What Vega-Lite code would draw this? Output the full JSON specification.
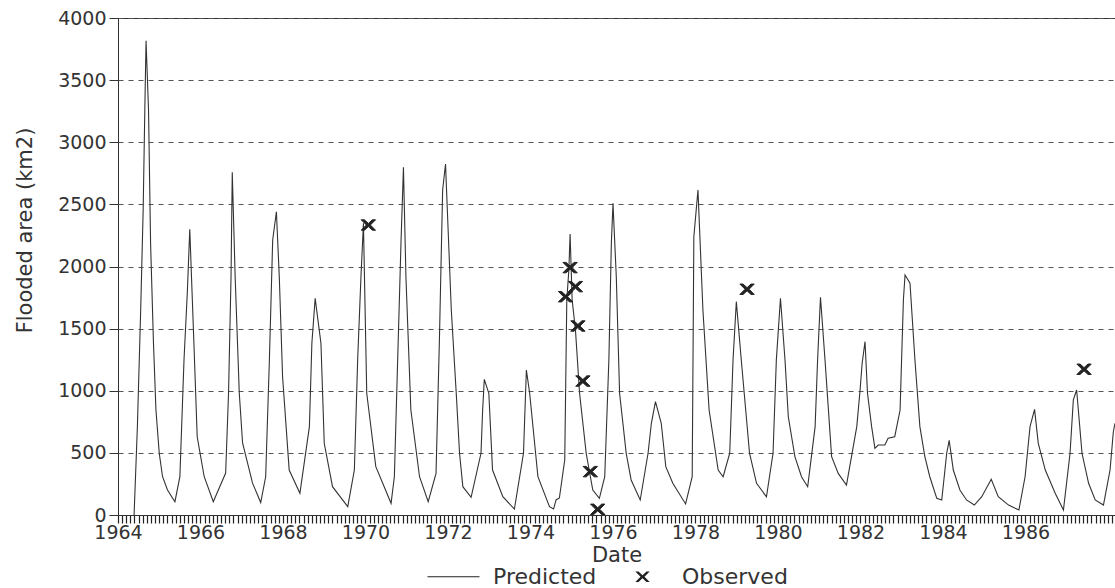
{
  "$schema": "https://vega.github.io/schema/vega-lite/v6.json",
  "width": 997,
  "height": 497,
  "autosize": "none",
  "padding": {"left": 118, "top": 18, "right": 0, "bottom": 73},
  "background": "white",
  "config": {
    "view": {"stroke": "#333", "strokeWidth": 1},
    "font": "DejaVu Sans"
  },
  "datasets": {
    "predicted": [
      {"year": 1964.39, "area": 0}, {"year": 1964.47, "area": 711}, {"year": 1964.55, "area": 1650}, {"year": 1964.61, "area": 2455},
      {"year": 1964.65, "area": 3260}, {"year": 1964.68, "area": 3817}, {"year": 1964.74, "area": 3260}, {"year": 1964.79, "area": 2186},
      {"year": 1964.86, "area": 1382}, {"year": 1964.92, "area": 845}, {"year": 1965.0, "area": 497}, {"year": 1965.08, "area": 308},
      {"year": 1965.2, "area": 201}, {"year": 1965.38, "area": 107}, {"year": 1965.5, "area": 308}, {"year": 1965.6, "area": 1248},
      {"year": 1965.68, "area": 1787}, {"year": 1965.74, "area": 2300}, {"year": 1965.84, "area": 1384}, {"year": 1965.92, "area": 630},
      {"year": 1966.09, "area": 308}, {"year": 1966.31, "area": 107}, {"year": 1966.61, "area": 338}, {"year": 1966.68, "area": 982},
      {"year": 1966.74, "area": 1918}, {"year": 1966.77, "area": 2758}, {"year": 1966.84, "area": 1918}, {"year": 1966.94, "area": 982},
      {"year": 1967.02, "area": 580}, {"year": 1967.26, "area": 258}, {"year": 1967.46, "area": 100}, {"year": 1967.58, "area": 308},
      {"year": 1967.67, "area": 1248}, {"year": 1967.75, "area": 2213}, {"year": 1967.84, "area": 2441}, {"year": 1967.91, "area": 1918},
      {"year": 1967.99, "area": 1113}, {"year": 1968.15, "area": 362}, {"year": 1968.41, "area": 175}, {"year": 1968.64, "area": 711},
      {"year": 1968.7, "area": 1382}, {"year": 1968.78, "area": 1744}, {"year": 1968.92, "area": 1382}, {"year": 1969.0, "area": 577},
      {"year": 1969.2, "area": 228}, {"year": 1969.57, "area": 67}, {"year": 1969.73, "area": 362}, {"year": 1969.81, "area": 1248},
      {"year": 1969.89, "area": 1918}, {"year": 1969.95, "area": 2347}, {"year": 1970.03, "area": 980}, {"year": 1970.25, "area": 389},
      {"year": 1970.62, "area": 94}, {"year": 1970.7, "area": 308}, {"year": 1970.78, "area": 1248}, {"year": 1970.86, "area": 2186},
      {"year": 1970.92, "area": 2798}, {"year": 1970.98, "area": 1918}, {"year": 1971.1, "area": 845}, {"year": 1971.31, "area": 308},
      {"year": 1971.52, "area": 107}, {"year": 1971.71, "area": 335}, {"year": 1971.79, "area": 1382}, {"year": 1971.87, "area": 2616},
      {"year": 1971.94, "area": 2825}, {"year": 1972.08, "area": 1650}, {"year": 1972.2, "area": 980}, {"year": 1972.28, "area": 497},
      {"year": 1972.36, "area": 228}, {"year": 1972.56, "area": 142}, {"year": 1972.8, "area": 497}, {"year": 1972.84, "area": 845},
      {"year": 1972.88, "area": 1092}, {"year": 1972.99, "area": 980}, {"year": 1973.08, "area": 362}, {"year": 1973.33, "area": 147},
      {"year": 1973.61, "area": 48}, {"year": 1973.83, "area": 497}, {"year": 1973.9, "area": 1167}, {"year": 1973.98, "area": 980},
      {"year": 1974.18, "area": 308}, {"year": 1974.46, "area": 67}, {"year": 1974.56, "area": 48}, {"year": 1974.62, "area": 121},
      {"year": 1974.7, "area": 137}, {"year": 1974.83, "area": 443}, {"year": 1974.88, "area": 1730}, {"year": 1974.93, "area": 1972},
      {"year": 1974.96, "area": 2262}, {"year": 1975.01, "area": 1730}, {"year": 1975.09, "area": 1489}, {"year": 1975.19, "area": 980},
      {"year": 1975.35, "area": 497}, {"year": 1975.51, "area": 201}, {"year": 1975.67, "area": 134}, {"year": 1975.8, "area": 308},
      {"year": 1975.9, "area": 1248}, {"year": 1975.96, "area": 2186}, {"year": 1976.0, "area": 2508}, {"year": 1976.08, "area": 1918},
      {"year": 1976.16, "area": 980}, {"year": 1976.32, "area": 497}, {"year": 1976.44, "area": 282}, {"year": 1976.66, "area": 121},
      {"year": 1976.85, "area": 497}, {"year": 1976.93, "area": 738}, {"year": 1977.03, "area": 912}, {"year": 1977.17, "area": 738},
      {"year": 1977.28, "area": 389}, {"year": 1977.45, "area": 255}, {"year": 1977.76, "area": 89}, {"year": 1977.92, "area": 308},
      {"year": 1977.96, "area": 2240}, {"year": 1978.06, "area": 2616}, {"year": 1978.18, "area": 1650}, {"year": 1978.33, "area": 845},
      {"year": 1978.55, "area": 362}, {"year": 1978.67, "area": 308}, {"year": 1978.83, "area": 497}, {"year": 1978.91, "area": 1248},
      {"year": 1978.99, "area": 1717}, {"year": 1979.11, "area": 1248}, {"year": 1979.31, "area": 497}, {"year": 1979.48, "area": 255},
      {"year": 1979.72, "area": 147}, {"year": 1979.88, "area": 497}, {"year": 1979.96, "area": 1248}, {"year": 1980.06, "area": 1744},
      {"year": 1980.17, "area": 1248}, {"year": 1980.25, "area": 791}, {"year": 1980.41, "area": 470}, {"year": 1980.57, "area": 308},
      {"year": 1980.72, "area": 228}, {"year": 1980.9, "area": 711}, {"year": 1980.96, "area": 1248}, {"year": 1981.03, "area": 1752},
      {"year": 1981.14, "area": 1248}, {"year": 1981.3, "area": 470}, {"year": 1981.46, "area": 335}, {"year": 1981.66, "area": 241},
      {"year": 1981.91, "area": 711}, {"year": 1981.99, "area": 1006}, {"year": 1982.04, "area": 1221}, {"year": 1982.11, "area": 1395},
      {"year": 1982.17, "area": 980}, {"year": 1982.27, "area": 711}, {"year": 1982.35, "area": 537}, {"year": 1982.43, "area": 563},
      {"year": 1982.59, "area": 563}, {"year": 1982.67, "area": 617}, {"year": 1982.83, "area": 630}, {"year": 1982.96, "area": 845},
      {"year": 1983.04, "area": 1730}, {"year": 1983.08, "area": 1932}, {"year": 1983.2, "area": 1865}, {"year": 1983.32, "area": 1248},
      {"year": 1983.44, "area": 711}, {"year": 1983.56, "area": 470}, {"year": 1983.68, "area": 308}, {"year": 1983.85, "area": 134},
      {"year": 1983.97, "area": 121}, {"year": 1984.09, "area": 497}, {"year": 1984.15, "area": 600}, {"year": 1984.25, "area": 362},
      {"year": 1984.41, "area": 201}, {"year": 1984.57, "area": 121}, {"year": 1984.76, "area": 80}, {"year": 1984.94, "area": 147},
      {"year": 1985.17, "area": 287}, {"year": 1985.34, "area": 147}, {"year": 1985.59, "area": 80}, {"year": 1985.84, "area": 40},
      {"year": 1985.99, "area": 308}, {"year": 1986.11, "area": 711}, {"year": 1986.22, "area": 850}, {"year": 1986.31, "area": 577},
      {"year": 1986.48, "area": 362}, {"year": 1986.72, "area": 175}, {"year": 1986.92, "area": 40}, {"year": 1987.08, "area": 497},
      {"year": 1987.16, "area": 926}, {"year": 1987.24, "area": 1006}, {"year": 1987.37, "area": 497}, {"year": 1987.53, "area": 255},
      {"year": 1987.69, "area": 121}, {"year": 1987.89, "area": 80}, {"year": 1988.05, "area": 362}, {"year": 1988.13, "area": 670},
      {"year": 1988.17, "area": 738}
    ],
    "observed": [
      {"year": 1970.07, "area": 2334, "series": "Observed"},
      {"year": 1974.85, "area": 1757, "series": "Observed"},
      {"year": 1974.96, "area": 1991, "series": "Observed"},
      {"year": 1975.09, "area": 1838, "series": "Observed"},
      {"year": 1975.15, "area": 1521, "series": "Observed"},
      {"year": 1975.27, "area": 1078, "series": "Observed"},
      {"year": 1975.45, "area": 349, "series": "Observed"},
      {"year": 1975.63, "area": 46, "series": "Observed"},
      {"year": 1979.25, "area": 1817, "series": "Observed"},
      {"year": 1987.42, "area": 1173, "series": "Observed"}
    ]
  },
  "layer": [
    {
      "data": {"name": "predicted"},
      "mark": {"type": "line", "color": "#333", "strokeWidth": 1.1, "clip": true},
      "encoding": {
        "x": {
          "field": "year", "type": "quantitative",
          "scale": {"domain": [1964, 1988.17], "nice": false, "zero": false},
          "axis": {
            "title": "Date", "titleFontSize": 21, "titleFontWeight": "normal", "titleColor": "#333", "titlePadding": 2,
            "tickCount": 290,
            "ticks": true, "tickSize": 8, "tickColor": "#222", "tickWidth": 1.2, "zindex": 2, "domainColor": "#333",
            "labelExpr": "(datum.value % 2 == 0 && datum.value <= 1986) ? format(datum.value, 'd') : ''",
            "labelOverlap": false, "labelFlush": false, "labelBound": false,
            "labelFontSize": 19, "labelColor": "#333", "labelPadding": 0, "grid": false
          }
        },
        "y": {
          "field": "area", "type": "quantitative",
          "scale": {"domain": [0, 4000], "nice": false},
          "axis": {
            "title": "Flooded area (km2)", "titleFontSize": 21, "titleFontWeight": "normal", "titleColor": "#333",
            "titlePadding": 22, "titleY": 212,
            "values": [0, 500, 1000, 1500, 2000, 2500, 3000, 3500, 4000],
            "format": "d", "labelFontSize": 19, "labelColor": "#333", "labelPadding": 3,
            "tickSize": 9, "tickColor": "#333", "domainColor": "#333",
            "grid": true, "gridDash": [5, 5], "gridColor": "#555", "gridWidth": 1
          }
        }
      }
    },
    {
      "data": {"name": "observed"},
      "mark": {"type": "point", "filled": true, "fill": "#222", "stroke": "#222", "strokeWidth": 1, "opacity": 1, "size": 1600},
      "encoding": {
        "x": {"field": "year", "type": "quantitative", "axis": {"tickCount": 290, "ticks": true, "tickSize": 8, "tickColor": "#222", "tickWidth": 1.2}},
        "y": {"field": "area", "type": "quantitative"},
        "shape": {
          "field": "series", "type": "nominal",
          "scale": {
            "domain": ["Predicted", "Observed"],
            "range": ["M-1.3,-0.02L1.3,-0.02L1.3,0.02L-1.3,0.02Z", "M-0.36,-0.26L-0.2,-0.26L0,-0.08L0.2,-0.26L0.36,-0.26L0.1,0L0.36,0.26L0.2,0.26L0,0.08L-0.2,0.26L-0.36,0.26L-0.1,0Z"]
          },
          "legend": {
            "title": null, "orient": "none", "legendX": 315, "legendY": 538, "direction": "horizontal",
            "symbolSize": 1600, "symbolStrokeColor": "#333", "symbolFillColor": "#222", "symbolStrokeWidth": 1,
            "labelFontSize": 22, "labelColor": "#333", "labelOffset": 19, "columnPadding": 25,
            "encode": {
              "symbols": {
                "update": {
                  "stroke": {"value": "#333"},
                  "strokeWidth": {"value": 0.6},
                  "fill": {"value": "#333"},
                  "opacity": {"value": 1}
                }
              }
            }
          }
        }
      }
    }
  ]
}
